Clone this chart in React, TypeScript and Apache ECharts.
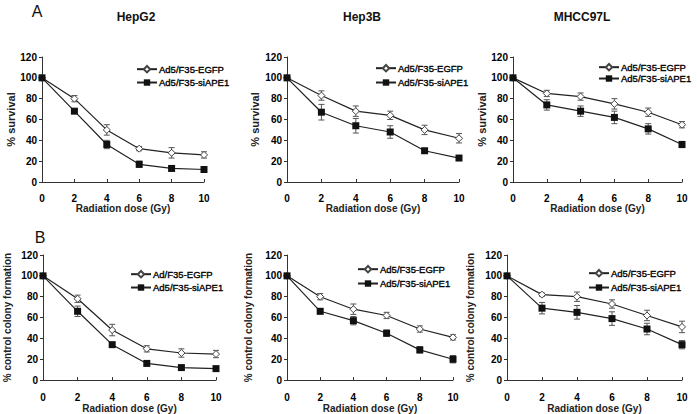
import { useEffect, useRef } from 'react';
import * as echarts from 'echarts';

// ---------- data ----------
const doses = [0, 2, 4, 6, 8, 10];

const hepg2SurvEGFP = [100, 80, 50, 32, 28, 26];
const hepg2SurvEGFPErr = [0, 3, 5, 2, 5, 3];
const hepg2SurvSi = [100, 68, 36, 17, 13, 12];
const hepg2SurvSiErr = [0, 2, 4, 3, 2, 1];

const hep3bSurvEGFP = [100, 83, 68, 64, 50, 42];
const hep3bSurvEGFPErr = [0, 4.5, 5, 4, 4.5, 4.5];
const hep3bSurvSi = [100, 67, 54, 48, 30, 23];
const hep3bSurvSiErr = [0, 7.5, 7, 6, 2, 2];

const mhccSurvEGFP = [100, 85, 82, 75, 67, 55];
const mhccSurvEGFPErr = [0, 3, 3.5, 5, 4, 3];
const mhccSurvSi = [100, 74, 68, 62, 51, 36];
const mhccSurvSiErr = [0, 5, 5, 6, 5, 3];

const hepg2ColEGFP = [100, 78, 48, 30, 26, 25];
const hepg2ColEGFPErr = [0, 3.5, 5.5, 3, 4, 3.5];
const hepg2ColSi = [100, 66, 34, 16, 12, 11];
const hepg2ColSiErr = [0, 5, 2, 2, 1.5, 1];

const hep3bColEGFP = [100, 80, 68, 62, 49, 41];
const hep3bColEGFPErr = [0, 3, 5, 3, 3, 2.5];
const hep3bColSi = [100, 66, 57, 45, 29, 20];
const hep3bColSiErr = [0, 2.5, 4, 3, 3, 3.5];

const mhccColEGFP = [100, 82, 80, 73, 62, 51];
const mhccColEGFPErr = [0, 1.5, 4.5, 4, 5, 5.5];
const mhccColSi = [100, 69, 65, 59, 49, 34];
const mhccColSiErr = [0, 5.5, 6.5, 6.5, 5.5, 4];

const titles = ['HepG2', 'Hep3B', 'MHCC97L'];
const yNames = ['% survival', '% survival', '% survival', '% control colony formation', '% control colony formation', '% control colony formation'];
const xName = 'Radiation dose (Gy)';
const egfpNames = ['Ad5/F35-EGFP', 'Ad5/F35-EGFP', 'Ad5/F35-EGFP', 'Ad/F35-EGFP', 'Ad5/F35-EGFP', 'Ad5/F35-EGFP'];
const siName = 'Ad5/F35-siAPE1';

const egfpVals = [hepg2SurvEGFP, hep3bSurvEGFP, mhccSurvEGFP, hepg2ColEGFP, hep3bColEGFP, mhccColEGFP];
const egfpErrs = [hepg2SurvEGFPErr, hep3bSurvEGFPErr, mhccSurvEGFPErr, hepg2ColEGFPErr, hep3bColEGFPErr, mhccColEGFPErr];
const siVals = [hepg2SurvSi, hep3bSurvSi, mhccSurvSi, hepg2ColSi, hep3bColSi, mhccColSi];
const siErrs = [hepg2SurvSiErr, hep3bSurvSiErr, mhccSurvSiErr, hepg2ColSiErr, hep3bColSiErr, mhccColSiErr];

// ---------- layout ----------
const grids = [
  { left: 42, top: 57, width: 162, height: 125 },
  { left: 287, top: 57, width: 172, height: 125 },
  { left: 513, top: 57, width: 169, height: 125 },
  { left: 43, top: 255, width: 173, height: 127 },
  { left: 287, top: 255, width: 166, height: 127 },
  { left: 507, top: 255, width: 175, height: 127 },
];
const yNameGaps = [23, 27, 25, 31, 34, 32];
const xNameGaps = [17, 17, 17, 16, 16, 16];
const legendPos = [
  { left: 136, top: 64, gap: 3 },
  { left: 375, top: 63, gap: 4 },
  { left: 598, top: 62, gap: 1 },
  { left: 130, top: 269, gap: 3 },
  { left: 357, top: 264, gap: 4 },
  { left: 588, top: 268, gap: 4 },
];
const titlePos = [
  { x: 136, y: 17 },
  { x: 362, y: 17 },
  { x: 582, y: 17 },
];

const FONT = "'Liberation Sans', Arial, sans-serif";

function errData(vals: number[], errs: number[]) {
  const out: number[][] = [];
  doses.forEach((d, i) => {
    if (errs[i] > 0) out.push([d, vals[i] - errs[i], vals[i] + errs[i]]);
  });
  return out;
}

const renderErr = (params: any, api: any) => {
  const x = api.value(0);
  const lo = api.value(1);
  const hi = api.value(2);
  const t = api.coord([x, hi]);
  const b = api.coord([x, lo]);
  const cw = 3;
  const st = { stroke: '#555', lineWidth: 1 };
  return {
    type: 'group',
    children: [
      { type: 'line', shape: { x1: t[0], y1: t[1], x2: b[0], y2: b[1] }, style: st },
      { type: 'line', shape: { x1: t[0] - cw, y1: t[1], x2: t[0] + cw, y2: t[1] }, style: st },
      { type: 'line', shape: { x1: b[0] - cw, y1: b[1], x2: b[0] + cw, y2: b[1] }, style: st },
    ],
  };
};

export default function App() {
  const ref = useRef<HTMLDivElement>(null);
  useEffect(() => {
    document.body.style.margin = '0';
    if (!ref.current) return;
    const chart = echarts.init(ref.current, undefined, { renderer: 'svg' });

    const series: any[] = [];
    const legends: any[] = [];
    for (let i = 0; i < 6; i++) {
      series.push({
        type: 'custom',
        xAxisIndex: i,
        yAxisIndex: i,
        renderItem: renderErr,
        data: errData(egfpVals[i], egfpErrs[i]),
        encode: { x: 0, y: [1, 2] },
        silent: true,
        z: 1,
      });
      series.push({
        type: 'custom',
        xAxisIndex: i,
        yAxisIndex: i,
        renderItem: renderErr,
        data: errData(siVals[i], siErrs[i]),
        encode: { x: 0, y: [1, 2] },
        silent: true,
        z: 1,
      });
      series.push({
        name: egfpNames[i],
        type: 'line',
        xAxisIndex: i,
        yAxisIndex: i,
        data: doses.map((d, k) => [d, egfpVals[i][k]]),
        symbol: 'diamond',
        symbolSize: 7,
        showSymbol: true,
        lineStyle: { color: '#222', width: 1.2 },
        itemStyle: { color: '#fff', borderColor: '#444', borderWidth: 1 },
        z: 3,
      });
      series.push({
        name: siName,
        type: 'line',
        xAxisIndex: i,
        yAxisIndex: i,
        data: doses.map((d, k) => [d, siVals[i][k]]),
        symbol: 'rect',
        symbolSize: 7,
        lineStyle: { color: '#222', width: 1.2 },
        itemStyle: { color: '#111' },
        z: 4,
      });
      legends.push({
        orient: 'vertical',
        left: legendPos[i].left,
        top: legendPos[i].top,
        itemGap: legendPos[i].gap,
        itemWidth: 20,
        itemHeight: 8,
        padding: 0,
        selectedMode: false,
        data: [egfpNames[i], siName],
        textStyle: {
          fontFamily: FONT,
          fontSize: 9.5,
          lineHeight: 10,
          color: '#000',
          textBorderColor: '#000',
          textBorderWidth: 0.35,
          padding: [0, 0, 0, -3],
        },
      });
    }

    const option: any = {
      animation: false,
      backgroundColor: '#fff',
      grid: grids.map((g) => ({ ...g, containLabel: false })),
      xAxis: grids.map((_, i) => ({
        type: 'value',
        gridIndex: i,
        min: 0,
        max: 10,
        interval: 2,
        name: xName,
        nameLocation: 'middle',
        nameGap: xNameGaps[i],
        nameTextStyle: { fontFamily: FONT, fontSize: 10, fontWeight: 'bold', color: '#222' },
        axisLine: { show: true, lineStyle: { color: '#333', width: 1 } },
        axisTick: { show: true, inside: true, length: 3, lineStyle: { color: '#333' } },
        axisLabel: { fontFamily: FONT, fontSize: 10, fontWeight: 'bold', color: '#000', margin: i < 3 ? 11 : 12 },
        splitLine: { show: false },
      })),
      yAxis: grids.map((_, i) => ({
        type: 'value',
        gridIndex: i,
        min: 0,
        max: 120,
        interval: 20,
        name: yNames[i],
        nameLocation: 'middle',
        nameRotate: 90,
        nameGap: yNameGaps[i],
        nameTextStyle: { fontFamily: FONT, fontSize: i < 3 ? 11 : 10, fontWeight: 'bold', color: '#222' },
        axisLine: { show: true, lineStyle: { color: '#333', width: 1 } },
        axisTick: { show: true, inside: false, length: 3, lineStyle: { color: '#333' } },
        axisLabel: { fontFamily: FONT, fontSize: 10, fontWeight: 'bold', color: '#000', margin: 5 },
        splitLine: { show: false },
      })),
      legend: legends,
      graphic: [
        ...titles.map((t, i) => ({
          type: 'text',
          x: titlePos[i].x,
          y: titlePos[i].y,
          style: { text: t, fontFamily: FONT, fontSize: 12, fontWeight: 'bold', fill: '#111', textAlign: 'center', textVerticalAlign: 'middle' },
        })),
        { type: 'text', x: 37, y: 11, style: { text: 'A', fontFamily: FONT, fontSize: 16, fill: '#111', textAlign: 'center', textVerticalAlign: 'middle' } },
        { type: 'text', x: 40, y: 237, style: { text: 'B', fontFamily: FONT, fontSize: 16, fill: '#111', textAlign: 'center', textVerticalAlign: 'middle' } },
      ],
      series,
    };
    chart.setOption(option);
    return () => chart.dispose();
  }, []);
  return <div ref={ref} style={{ width: 697, height: 414 }} />;
}
